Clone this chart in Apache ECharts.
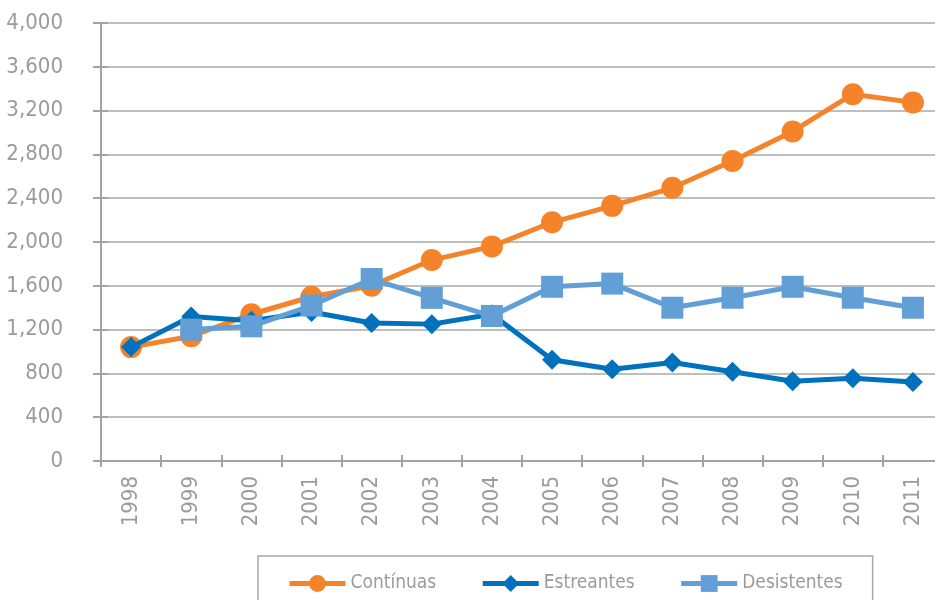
<!DOCTYPE html>
<html>
<head>
<meta charset="utf-8">
<title>chart</title>
<script src="https://cdn.jsdelivr.net/npm/echarts@6/dist/echarts.min.js"></script>
<style>
  html, body { margin: 0; padding: 0; background: #fff; overflow: hidden; }
  /* a area do grafico passa um pouco da janela, como no original */
  #chart { width: 950px; height: 600px; }
</style>
</head>
<body>
<div id="chart"></div>
<script>
// anos
const years = ['1998', '1999', '2000', '2001', '2002', '2003', '2004', '2005', '2006', '2007', '2008', '2009', '2010', '2011']

const continuas = [1040, 1140, 1340, 1500, 1600, 1835, 1960, 2180, 2330, 2495, 2740, 3010, 3350, 3275]
const estreantes = [1040, 1320, 1280, 1360, 1260, 1250, 1340, 925, 838, 900, 815, 728, 755, 722]
const desistentes = [null, 1200, 1230, 1420, 1662, 1490, 1324, 1591, 1620, 1400, 1491, 1591, 1491, 1400]

const yMin = 0
const yMax = 4000
const yStep = 400

const fontFamily = '"DejaVu Sans Condensed", "Liberation Sans Narrow", "DejaVu Sans", sans-serif'
const gray = '#A3A3A3'
const textGray = '#9B9B9B'

const myChart = echarts.init(document.getElementById('chart'))

// eixo duplicado so para os tracos cruzarem a linha do eixo
const xBase = {
  type: 'category',
  data: years,
  position: 'bottom',
  boundaryGap: true,
  axisLine: { lineStyle: { color: gray, width: 2 } },
  splitLine: { show: false }
}
const yBase = {
  type: 'value',
  position: 'left',
  min: yMin,
  max: yMax,
  interval: yStep,
  axisLine: { show: true, lineStyle: { color: gray, width: 2 } }
}

const option = {
  animation: false,
  grid: {
    left: 101,
    top: 23,
    width: 842,
    height: 438,
    containLabel: false
  },
  xAxis: [
    Object.assign({}, xBase, {
      axisTick: { show: true, length: 6, lineStyle: { color: gray, width: 2 } },
      axisLabel: {
        rotate: 90,
        margin: 15,
        color: textGray,
        fontSize: 22,
        fontFamily: fontFamily
      }
    }),
    Object.assign({}, xBase, {
      axisTick: { show: true, inside: true, length: 6, lineStyle: { color: gray, width: 2 } },
      axisLabel: { show: false }
    })
  ],
  yAxis: [
    Object.assign({}, yBase, {
      axisTick: { show: true, length: 8, lineStyle: { color: gray, width: 2 } },
      axisLabel: {
        margin: 38,
        color: textGray,
        fontSize: 22,
        fontFamily: fontFamily,
        formatter: function (v) {
          return v.toLocaleString('en-US')
        }
      },
      splitLine: { show: true, lineStyle: { color: '#A8A8A8', width: 1.5 } }
    }),
    Object.assign({}, yBase, {
      axisTick: { show: true, inside: true, length: 7, lineStyle: { color: gray, width: 2 } },
      axisLabel: { show: false },
      splitLine: { show: false }
    })
  ],
  legend: {
    left: 258,
    top: 556,
    padding: [18, 30, 30, 29],
    borderColor: '#A8A8A8',
    borderWidth: 1.5,
    itemGap: 44,
    itemWidth: 56,
    itemHeight: 21,
    lineStyle: { width: 5 },
    textStyle: {
      color: textGray,
      fontSize: 19,
      fontFamily: fontFamily
    },
    data: ['Contínuas', 'Estreantes', 'Desistentes']
  },
  series: [
    {
      name: 'Contínuas',
      type: 'line',
      data: continuas,
      symbol: 'circle',
      symbolSize: 22,
      color: '#F5832A',
      lineStyle: { width: 5 },
      z: 2
    },
    {
      name: 'Estreantes',
      type: 'line',
      data: estreantes,
      symbol: 'diamond',
      symbolSize: 20,
      color: '#0072BD',
      lineStyle: { width: 5 },
      z: 3
    },
    {
      name: 'Desistentes',
      type: 'line',
      data: desistentes,
      symbol: 'rect',
      symbolSize: 22,
      color: '#629FD6',
      lineStyle: { width: 5 },
      z: 4
    }
  ]
}

myChart.setOption(option)
</script>
</body>
</html>
